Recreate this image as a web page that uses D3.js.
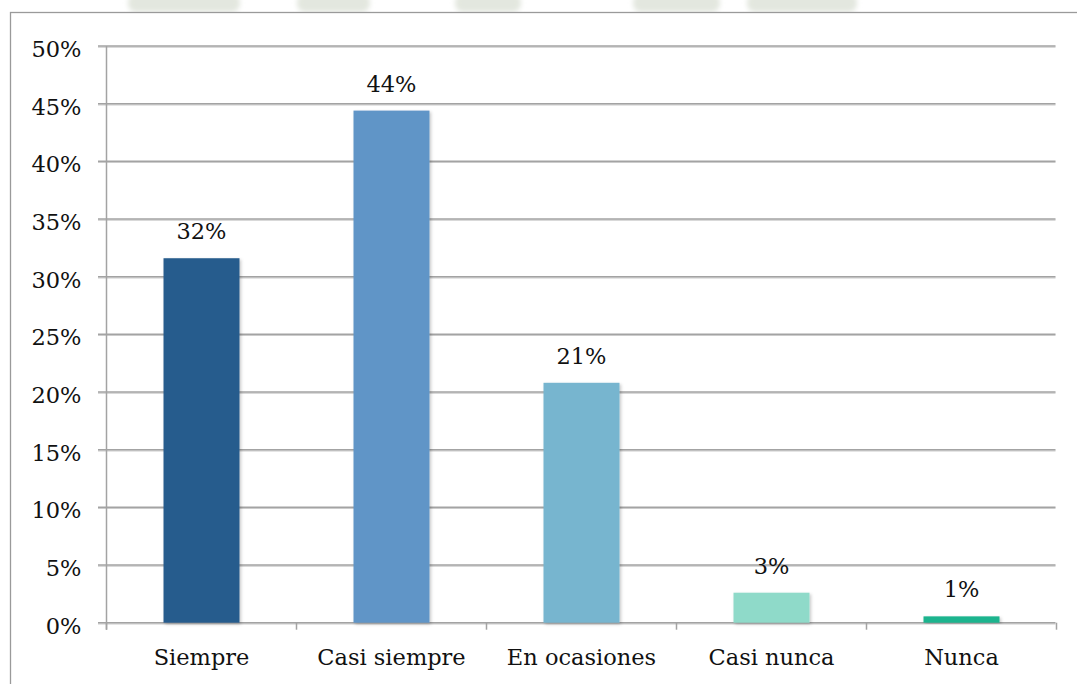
<!DOCTYPE html>
<html>
<head>
<meta charset="utf-8">
<script src="https://cdn.jsdelivr.net/npm/d3@7"></script>
<style>
  html, body { margin: 0; padding: 0; background: #fff; }
  svg { display: block; }
  text { font-family: "DejaVu Serif", "Liberation Serif", serif; fill: #111; }
</style>
</head>
<body>
<svg id="chart" width="1077" height="684"></svg>
<script>
// Survey answer categories and their shares
const categories = ["Siempre", "Casi siempre", "En ocasiones", "Casi nunca", "Nunca"];
const shares = [0.316, 0.444, 0.208, 0.026, 0.0055];
const barColors = ["#285C8D", "#6195C7", "#77B5CF", "#8FDAC9", "#1AB48E"];
const yTicks = [0, 0.05, 0.10, 0.15, 0.20, 0.25, 0.30, 0.35, 0.40, 0.45, 0.50];

const FONT_SIZE = 22.5;
const svg = d3.select("#chart");
const pct = d3.format(".0%");

const defs = svg.append("defs");
defs.append("filter").attr("id", "soft")
  .append("feGaussianBlur").attr("stdDeviation", 2.5);

// Faint page marks showing above the frame
const bgMarks = svg.append("g").attr("fill", "#E3E7DF").attr("filter", "url(#soft)");
[[128, 112], [297, 73], [455, 66], [633, 87], [747, 110]].forEach(([x0, w]) => {
  bgMarks.append("rect").attr("x", x0).attr("y", -6).attr("width", w).attr("height", 18).attr("rx", 8);
});

// Chart frame
svg.append("rect")
  .attr("x", 10.5).attr("y", 12.5)
  .attr("width", 1100).attr("height", 700)
  .attr("fill", "#fff")
  .attr("stroke", "#9A9A9A").attr("stroke-width", 1.3);

const shadow = defs.append("filter").attr("id", "barShadow")
  .attr("x", "-20%").attr("y", "-20%").attr("width", "140%").attr("height", "140%");
shadow.append("feDropShadow")
  .attr("dx", 1.5).attr("dy", 1.5).attr("stdDeviation", 1.5)
  .attr("flood-color", "#000").attr("flood-opacity", 0.22);

const lineShadow = defs.append("filter").attr("id", "lineShadow")
  .attr("x", "0%").attr("y", "-200%").attr("width", "100%").attr("height", "500%");
lineShadow.append("feDropShadow")
  .attr("dx", 0).attr("dy", 1).attr("stdDeviation", 0.6)
  .attr("flood-color", "#000").attr("flood-opacity", 0.2);

const x = d3.scaleBand()
  .domain(categories)
  .range([106.5, 1056.5])
  .paddingInner(0.6)
  .paddingOuter(0.3);

const y = d3.scaleLinear()
  .domain([0, 0.5])
  .range([622.7, 46]);

// Horizontal gridlines with short ticks on the left
const grid = svg.append("g").attr("filter", "url(#lineShadow)");
grid.selectAll("line")
  .data(yTicks)
  .join("line")
  .attr("x1", 98).attr("x2", 1055.5)
  .attr("y1", d => y(d)).attr("y2", d => y(d))
  .attr("stroke", "#A3A3A3").attr("stroke-width", 1.5);

// Y axis labels
const yAxis = d3.axisLeft(y).tickValues(yTicks).tickFormat(pct).tickSize(0).tickPadding(0);
const yg = svg.append("g").attr("transform", "translate(81.5,0)").call(yAxis);
yg.select(".domain").remove();
yg.selectAll("text")
  .attr("font-family", "DejaVu Serif, Liberation Serif, serif")
  .attr("font-size", FONT_SIZE).attr("fill", "#111")
  .attr("dy", "0.46em");

// Vertical axis line
svg.append("line")
  .attr("x1", 106.5).attr("x2", 106.5)
  .attr("y1", y(0.5)).attr("y2", y(0) + 7)
  .attr("stroke", "#A3A3A3").attr("stroke-width", 1.5);

// Category boundary ticks below the baseline
const bounds = categories.map(c => x(c) - x.step() * x.paddingOuter()).concat([1056.5]);
svg.append("g").selectAll("line")
  .data(bounds)
  .join("line")
  .attr("x1", d => d).attr("x2", d => d)
  .attr("y1", y(0)).attr("y2", y(0) + 7)
  .attr("stroke", "#A3A3A3").attr("stroke-width", 1.5);

// Bars
svg.append("g").selectAll("rect")
  .data(categories)
  .join("rect")
  .attr("x", c => x(c))
  .attr("width", x.bandwidth())
  .attr("y", (c, i) => y(shares[i]))
  .attr("height", (c, i) => y(0) - y(shares[i]))
  .attr("fill", (c, i) => barColors[i])
  .attr("filter", "url(#barShadow)");

// Value labels above bars
svg.append("g").selectAll("text")
  .data(categories)
  .join("text")
  .attr("x", c => x(c) + x.bandwidth() / 2)
  .attr("y", (c, i) => y(shares[i]) - 19)
  .attr("text-anchor", "middle")
  .attr("font-size", FONT_SIZE)
  .text((c, i) => pct(shares[i]));

// Category labels
const xAxis = d3.axisBottom(x).tickSize(0).tickPadding(0);
const xg = svg.append("g").attr("transform", `translate(0,${y(0) + 42.5})`).call(xAxis);
xg.select(".domain").remove();
xg.selectAll("text")
  .attr("font-family", "DejaVu Serif, Liberation Serif, serif")
  .attr("font-size", FONT_SIZE).attr("fill", "#111")
  .attr("dy", 0);
</script>
</body>
</html>
